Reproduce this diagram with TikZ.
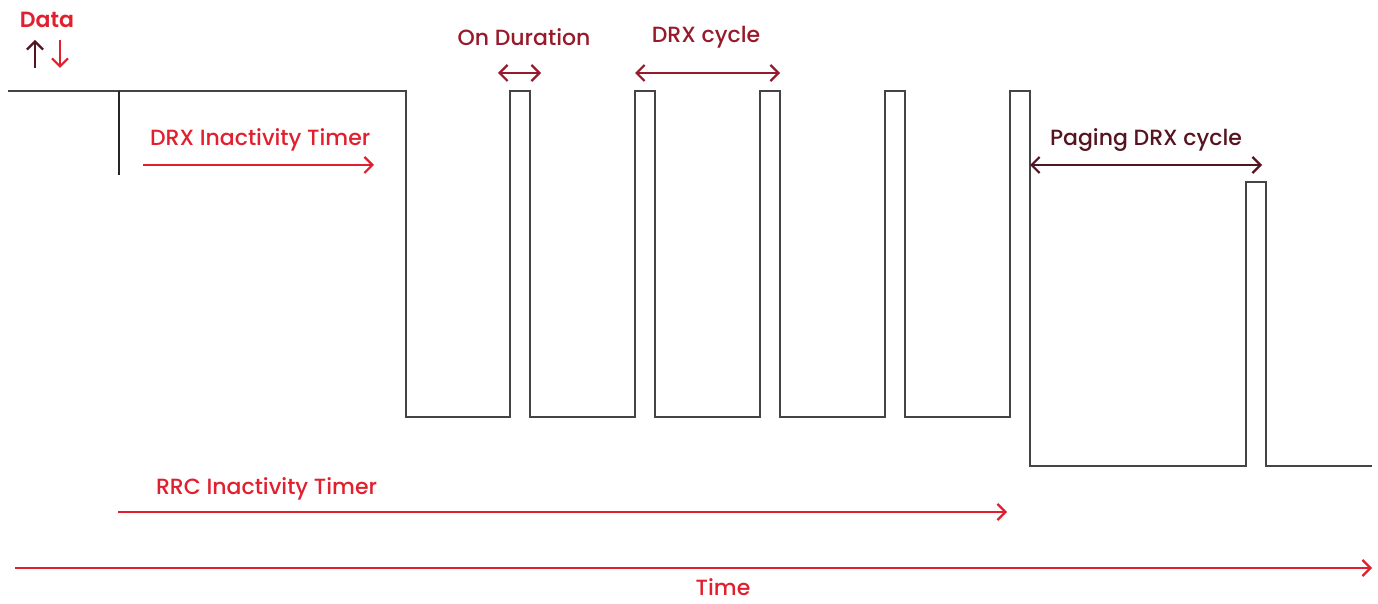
\documentclass[tikz,border=0pt]{standalone}
\usepackage{fontspec}
\setmainfont{Poppins Medium}[BoldFont=Poppins SemiBold]
\usepackage{tikz}
\usetikzlibrary{arrows.meta}

\definecolor{drxred}{HTML}{E0202F}
\definecolor{drxdark}{HTML}{961A2A}
\definecolor{drxmaroon}{HTML}{551420}
\definecolor{sig}{HTML}{444444}

\begin{document}
\begin{tikzpicture}[x=0.5pt,y=-0.5pt,
	>={Straight Barb[length=4pt,width=8pt]},
	lbl/.style={font=\fontsize{11}{13}\selectfont},
	timer/.style={drxred,line width=1.1pt,->},
	span/.style={line width=1.1pt,<->}]
	\useasboundingbox (0,0) rectangle (1378,604);

	% signal level
	\draw [sig, line width=1.2pt] (8,91) -- (406,91) -- (406,417)
		foreach \x in {510,635,760,885} {-- (\x,417) -- (\x,91) -- (\x+20,91) -- (\x+20,417)}
		-- (1010,417) -- (1010,91) -- (1030,91) -- (1030,466) -- (1246,466) -- (1246,182)
		-- (1266,182) -- (1266,466) -- (1372,466);
	\draw [black!85, line width=1.2pt] (119,91) -- (119,175);

	% data
	\node (data) at (47,20) [lbl, drxred, font=\fontsize{11}{13}\selectfont\bfseries] {Data};
	\coordinate (upA) at (35,68);  \coordinate (upB) at (35,40);
	\coordinate (dnA) at (60,40);  \coordinate (dnB) at (60,68);
	\draw [drxmaroon, line width=1.1pt, ->] (upA) -- (upB);
	\draw [drxred, line width=1.1pt, ->] (dnA) -- (dnB);

	% drx inactivity timer
	\node (drxit) at (143,140) [lbl, drxred, anchor=west] {DRX Inactivity Timer};
	\coordinate (drxA) at (143,165); \coordinate (drxB) at (374,165);
	\draw [timer] (drxA) -- (drxB);

	% on duration / drx cycle
	\node (ondur) at (524,37) [lbl, drxdark] {On Duration};
	\coordinate (onA) at (498,73); \coordinate (onB) at (541,73);
	\draw [span, drxdark] (onA) -- (onB);
	\node (cycle) at (706,37) [lbl, drxdark] {DRX cycle};
	\coordinate (cyA) at (635,73); \coordinate (cyB) at (780,73);
	\draw [span, drxdark] (cyA) -- (cyB);

	% paging
	\node (paging) at (1146,140) [lbl, drxmaroon] {Paging DRX cycle};
	\coordinate (pgA) at (1030,165); \coordinate (pgB) at (1262,165);
	\draw [span, drxmaroon] (pgA) -- (pgB);

	% rrc inactivity timer
	\node (rrcit) at (149,489) [lbl, drxred, anchor=west] {RRC Inactivity Timer};
	\coordinate (rrcA) at (118,512); \coordinate (rrcB) at (1007,512);
	\draw [timer] (rrcA) -- (rrcB);

	% time
	\coordinate (tA) at (15,568); \coordinate (tB) at (1372,568);
	\draw [timer] (tA) -- (tB);
	\node (time) at (723,596) [lbl, drxred, anchor=south, inner sep=0pt] {Time};
\end{tikzpicture}
\end{document}
